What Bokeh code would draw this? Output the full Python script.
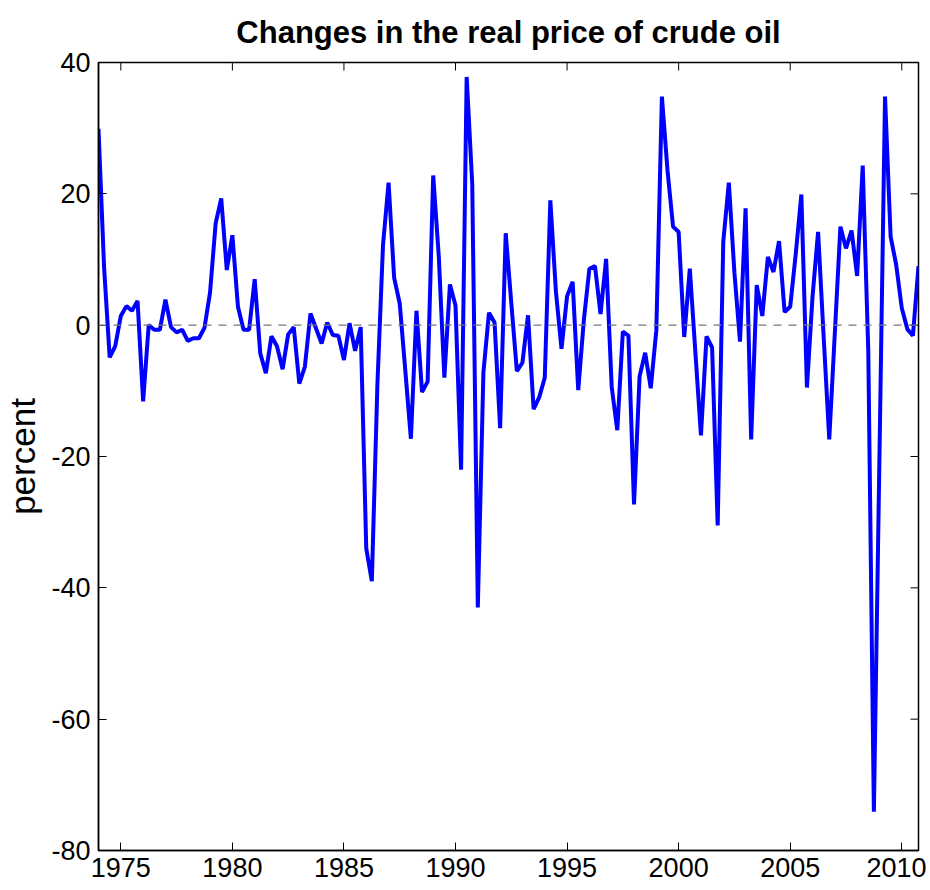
import math
from bokeh.plotting import figure
from bokeh.models import Range1d, FixedTicker, Span
from bokeh.embed import file_html
from bokeh.resources import INLINE

# Quarterly percent changes in the real price of crude oil, starting 1974Q1
start_year = 1974
quarters_per_year = 4
pct_change = [
    29.9, 8.8, -4.9, -3.2, 1.4, 2.9, 2.2, 3.7, -11.6, 0.0,
    -0.7, -0.7, 3.9, -0.3, -1.1, -0.7, -2.4, -2.0, -2.0, -0.4,
    5.0, 15.5, 19.3, 8.4, 13.7, 2.8, -0.7, -0.7, 7.0, -4.3,
    -7.3, -1.7, -3.2, -6.7, -1.4, -0.3, -8.9, -6.3, 1.8, -0.5,
    -2.8, 0.4, -1.5, -1.6, -5.3, 0.3, -3.9, -0.3, -34.0, -39.0,
    -9.0, 12.2, 21.7, 7.2, 3.3, -6.9, -17.3, 2.2, -10.2, -8.6,
    22.8, 10.5, -8.0, 6.2, 3.0, -22.0, 37.8, 21.5, -43.0, -7.2,
    1.9, 0.4, -15.7, 14.0, 3.4, -7.0, -5.7, 1.5, -12.8, -11.0,
    -8.0, 19.0, 5.1, -3.6, 4.4, 6.6, -9.9, 0.7, 8.6, 9.0,
    1.7, 10.1, -9.4, -16.0, -1.0, -1.6, -27.3, -7.8, -4.2, -9.6,
    -0.8, 34.8, 23.6, 15.0, 14.2, -1.8, 8.6, -4.1, -16.8, -1.7,
    -3.4, -30.5, 12.7, 21.7, 8.0, -2.5, 17.8, -17.4, 6.1, 1.4,
    10.4, 8.1, 12.8, 2.0, 2.8, 10.9, 19.9, -9.5, 4.3, 14.2,
    -1.8, -17.4, -1.2, 15.0, 11.7, 14.4, 7.5, 24.3, -4.0, -74.1,
    -20.0, 34.8, 13.5, 9.2, 2.6, -0.6, -1.6, 9.0,
]
x_ticks = [1975, 1980, 1985, 1990, 1995, 2000, 2005, 2010]
y_ticks = [-80, -60, -40, -20, 0, 20, 40]
y_tick_labels = ["-80", "-60", "-40", "-20", "0", "20", "40"]
title_text = "Changes in the real price of crude oil"
y_label = "percent"

x = [start_year + i / quarters_per_year for i in range(len(pct_change))]

font = "Liberation Sans"

p = figure(
    width=926, height=884,
    output_backend="svg", toolbar_location=None,
    x_range=Range1d(x[0], x[-1]), y_range=Range1d(y_ticks[0], y_ticks[-1]),
    min_border_left=93, min_border_right=8, min_border_top=62, min_border_bottom=34,
    title=title_text,
)
p.title.text_font = font
p.title.text_font_size = "31px"
p.title.text_font_style = "bold"
p.title.align = "center"
p.title.text_color = "black"
p.title.text_line_height = 0.9
p.title.standoff = 25

p.xgrid.visible = False
p.ygrid.visible = False
p.outline_line_color = "black"
p.outline_line_width = 1.5
p.background_fill_color = "white"
p.border_fill_color = "white"

def style_axis(ax):
    ax.major_tick_in = 8
    ax.major_tick_out = 0
    ax.minor_tick_in = 0
    ax.minor_tick_out = 0
    ax.major_tick_line_color = "black"
    ax.major_tick_line_width = 1
    ax.axis_line_color = "black"
    ax.axis_line_width = 1.5
    ax.major_label_text_color = "black"
    ax.major_label_text_font = font
    ax.major_label_text_font_size = "27px"
    ax.major_label_standoff = 6

xax = p.xaxis[0]
xax.ticker = FixedTicker(ticks=x_ticks)
style_axis(xax)
xax.major_label_standoff = 7

yax = p.yaxis[0]
yax.ticker = FixedTicker(ticks=y_ticks)
style_axis(yax)
yax.major_label_standoff = 8
yax.major_label_overrides = dict(zip(y_ticks, y_tick_labels))
yax.axis_label = y_label
yax.axis_label_text_font = font
yax.axis_label_text_font_size = "35px"
yax.axis_label_text_font_style = "normal"
yax.axis_label_text_color = "black"
yax.axis_label_standoff = 6

# inward ticks on the top and right edges of the box
p.scatter(x=x_ticks, y=[y_ticks[-1]] * len(x_ticks), marker="dash", size=16,
          angle=math.pi / 2, line_color="black", line_width=1)
p.scatter(x=[x[-1]] * len(y_ticks), y=y_ticks, marker="dash", size=16,
          line_color="black", line_width=1)

zero = Span(location=0, dimension="width", line_color="#777777",
            line_width=1.3, line_dash="8 7")
p.add_layout(zero)

p.line(x, pct_change, line_color="#0000ff", line_width=4)

open("out.html", "w").write(file_html(p, INLINE))
